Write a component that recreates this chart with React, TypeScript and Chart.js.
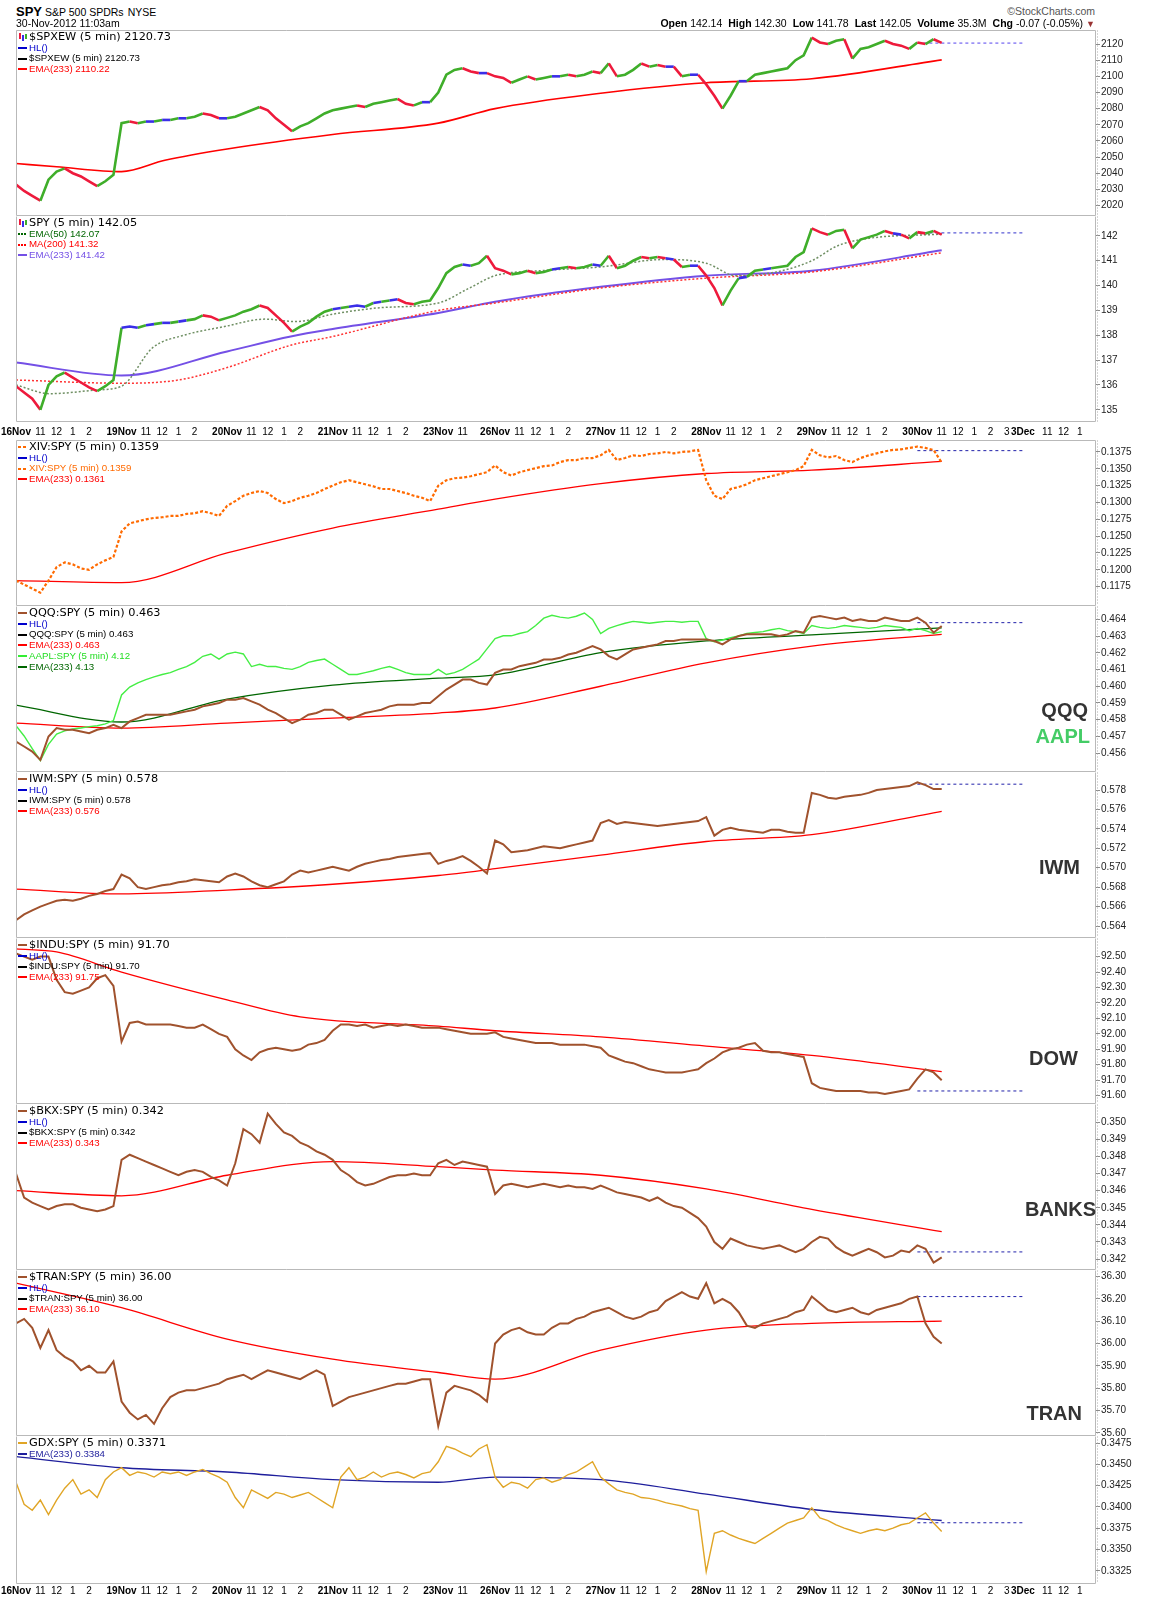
import React, { useEffect, useRef } from 'react';
import { Chart, registerables } from 'chart.js';

Chart.register(...registerables);

const SANS = '"Liberation Sans", Arial, Helvetica, sans-serif';
const VERD = '"DejaVu Sans", Verdana, sans-serif';
Chart.defaults.font.family = SANS;

// ---------- time axis (5-minute bars per session) ----------
const DAY_LABELS = ['16Nov', '19Nov', '20Nov', '21Nov', '23Nov', '26Nov', '27Nov', '28Nov', '29Nov', '30Nov', '3Dec'];
const DAY_BARS = [78, 78, 78, 78, 42, 78, 78, 78, 78, 78, 54];
const HOURS_SHOWN = [4, 4, 4, 4, 1, 4, 4, 4, 4, 5, 3];
const HOUR_LABELS = ['11', '12', '1', '2', '3'];
const HOUR_OFFSETS = [18, 30, 42, 54, 66];
const STEP = 6; // bars between samples below (30 minutes)

// ---------- series (one sample every 30 minutes) ----------
const SPXEW = [
  2033, 2029, 2026, 2023, 2036, 2041, 2043, 2040, 2038, 2035, 2032, 2035, 2039,
  2071, 2072, 2071, 2072, 2072, 2073, 2073, 2074, 2074, 2075, 2077, 2076, 2074,
  2074, 2075, 2077, 2079, 2081, 2079, 2074, 2070, 2066, 2069, 2071, 2074, 2077,
  2079, 2080, 2081, 2082, 2081, 2083, 2084, 2085, 2086, 2083, 2082, 2084, 2084,
  2090, 2101, 2104, 2105, 2103, 2102, 2102,
  2100, 2099, 2096, 2098, 2100, 2098, 2099, 2100, 2100, 2101, 2100, 2101, 2103,
  2102, 2108, 2100, 2101, 2104, 2108, 2106, 2107, 2106, 2106, 2100, 2101, 2101,
  2095, 2088, 2080, 2088, 2097, 2097, 2101, 2102, 2103, 2104, 2105, 2110, 2113,
  2124, 2121, 2120, 2122, 2123, 2111, 2117, 2118, 2120, 2122, 2120, 2119, 2117,
  2121, 2120, 2123, 2120.73,
];
const SPXEW_EMA233 = [[0, 2046], [30, 2044], [78, 2041], [110, 2048], [156, 2055], [234, 2064], [312, 2071], [354, 2080], [432, 2089.5], [510, 2096], [588, 2098.5], [684, 2110.22]];

const SPY = [
  135.95, 135.7, 135.45, 135.0, 136.0, 136.35, 136.5, 136.3, 136.1, 135.9, 135.75, 135.95, 136.2,
  138.3, 138.35, 138.3, 138.4, 138.45, 138.5, 138.5, 138.55, 138.6, 138.65, 138.8, 138.75, 138.6,
  138.7, 138.8, 138.95, 139.05, 139.2, 139.1, 138.8, 138.5, 138.15, 138.35, 138.5, 138.75, 138.95,
  139.05, 139.1, 139.15, 139.2, 139.15, 139.3, 139.35, 139.4, 139.45, 139.3, 139.25, 139.35, 139.4,
  139.9, 140.5, 140.75, 140.85, 140.8, 140.9, 141.2,
  140.7, 140.6, 140.45, 140.5, 140.6, 140.5, 140.55, 140.65, 140.7, 140.75, 140.7, 140.75, 140.85,
  140.8, 141.2, 140.7, 140.8, 141.0, 141.15, 141.1, 141.15, 141.1, 141.05, 140.75, 140.8, 140.8,
  140.4, 139.9, 139.2, 139.8, 140.3, 140.35, 140.6, 140.65, 140.7, 140.75, 140.8, 141.15, 141.35,
  142.3, 142.15, 142.05, 142.2, 142.25, 141.5, 141.85, 141.95, 142.05, 142.2, 142.1, 142.05, 141.9,
  142.15, 142.1, 142.2, 142.05,
];
const SPY_EMA50 = [[0, 136.0], [25, 135.65], [60, 135.8], [78, 135.95], [101, 137.5], [124, 138.0], [154, 138.35], [184, 138.65], [207, 138.55], [234, 138.85], [267, 139.1], [312, 139.3], [335, 139.9], [354, 140.4], [388, 140.6], [432, 140.75], [479, 141.05], [510, 140.9], [532, 140.4], [562, 140.55], [588, 141.0], [607, 141.6], [630, 141.9], [684, 142.07]];
const SPY_MA200 = [[0, 136.2], [78, 136.07], [120, 136.2], [156, 136.7], [203, 137.6], [234, 137.95], [312, 139.0], [354, 139.3], [432, 139.9], [510, 140.3], [588, 140.55], [684, 141.32]];
const SPY_EMA233 = [[0, 136.9], [78, 136.38], [156, 137.35], [203, 137.95], [234, 138.25], [312, 138.9], [354, 139.35], [432, 139.95], [510, 140.4], [588, 140.6], [684, 141.42]];

const XIV_SPY = [
  0.1184, 0.1178, 0.1172, 0.1166, 0.1184, 0.1204, 0.1211, 0.1208, 0.1202, 0.1200, 0.1208, 0.1214, 0.1219,
  0.1257, 0.1269, 0.1272, 0.1275, 0.1277, 0.1278, 0.1280, 0.1280, 0.1283, 0.1284, 0.1287, 0.1284, 0.1280,
  0.1295, 0.1302, 0.1310, 0.1314, 0.1317, 0.1314, 0.1305, 0.1299, 0.1302, 0.1307, 0.1310, 0.1314, 0.1320,
  0.1325, 0.1330, 0.1333, 0.1330, 0.1327, 0.1324, 0.1320, 0.1320, 0.1317, 0.1314, 0.1310, 0.1307, 0.1302,
  0.1325, 0.1333, 0.1336, 0.1337, 0.1339, 0.1342, 0.1345,
  0.1355, 0.1345, 0.1340, 0.1345, 0.1348, 0.1351, 0.1354, 0.1355, 0.1360, 0.1363, 0.1363, 0.1366, 0.1366,
  0.1370, 0.1378, 0.1363, 0.1366, 0.1370, 0.1369, 0.1372, 0.1373, 0.1375, 0.1373, 0.1375, 0.1376, 0.1378,
  0.1333, 0.1310, 0.1305, 0.1320, 0.1323, 0.1327, 0.1333, 0.1336, 0.1339, 0.1342, 0.1345, 0.1348, 0.1354,
  0.1378, 0.1370, 0.1367, 0.1369, 0.1363, 0.1360, 0.1366, 0.1370, 0.1373, 0.1376, 0.1378, 0.1379, 0.1381,
  0.1383, 0.1381, 0.1378, 0.1359,
];
const XIV_EMA233 = [[0, 0.1184], [78, 0.1181], [156, 0.1225], [234, 0.1262], [312, 0.1290], [354, 0.1305], [432, 0.1328], [510, 0.1343], [588, 0.1348], [684, 0.1361]];

const QQQ_SPY = [
  0.4567, 0.4564, 0.4561, 0.4556, 0.4570, 0.4575, 0.4574, 0.4574, 0.4573, 0.4572, 0.4574, 0.4575, 0.4577,
  0.4575, 0.4579, 0.4581, 0.4583, 0.4583, 0.4583, 0.4583, 0.4584, 0.4585, 0.4586, 0.4588, 0.4589, 0.4590,
  0.4592, 0.4592, 0.4593, 0.4591, 0.4589, 0.4586, 0.4584, 0.4581, 0.4578, 0.4580, 0.4583, 0.4584, 0.4586,
  0.4586, 0.4583, 0.4580, 0.4582, 0.4584, 0.4585, 0.4586, 0.4588, 0.4589, 0.4589, 0.4589, 0.4590, 0.4590,
  0.4594, 0.4598, 0.4601, 0.4604, 0.4604, 0.4602, 0.4601,
  0.4608, 0.4610, 0.4610, 0.4612, 0.4613, 0.4614, 0.4616, 0.4616, 0.4617, 0.4619, 0.4620, 0.4622, 0.4624,
  0.4622, 0.4618, 0.4616, 0.4619, 0.4622, 0.4623, 0.4624, 0.4625, 0.4627, 0.4627, 0.4628, 0.4628, 0.4628,
  0.4628, 0.4627, 0.4625, 0.4628, 0.4630, 0.4631, 0.4631, 0.4631, 0.4631, 0.4630, 0.4631, 0.4633, 0.4632,
  0.4641, 0.4642, 0.4641, 0.4640, 0.4641, 0.4639, 0.4640, 0.4639, 0.4639, 0.4641, 0.4640, 0.4639, 0.4639,
  0.4641, 0.4638, 0.4632, 0.4636,
];
const QQQ_EMA233 = [[0, 0.4578], [78, 0.4575], [156, 0.4578], [234, 0.4581], [312, 0.4584], [354, 0.4587], [432, 0.4600], [510, 0.4614], [588, 0.4624], [684, 0.4631]];

const AAPL_SPY = [
  3.918, 3.896, 3.869, 3.843, 3.878, 3.900, 3.907, 3.911, 3.913, 3.916, 3.918, 3.922, 3.929,
  3.984, 4.001, 4.010, 4.017, 4.023, 4.028, 4.032, 4.039, 4.045, 4.054, 4.067, 4.072, 4.061,
  4.072, 4.076, 4.072, 4.045, 4.050, 4.045, 4.045, 4.041, 4.039, 4.045, 4.054, 4.058, 4.061,
  4.050, 4.039, 4.028, 4.028, 4.032, 4.036, 4.041, 4.045, 4.039, 4.032, 4.028, 4.028, 4.028,
  4.039, 4.028, 4.032, 4.039, 4.050, 4.061, 4.083,
  4.105, 4.111, 4.111, 4.116, 4.120, 4.133, 4.149, 4.155, 4.151, 4.149, 4.153, 4.160, 4.146,
  4.116, 4.127, 4.133, 4.138, 4.142, 4.140, 4.138, 4.140, 4.142, 4.142, 4.140, 4.142, 4.142,
  4.105, 4.098, 4.102, 4.107, 4.111, 4.116, 4.118, 4.120, 4.124, 4.127, 4.122, 4.120, 4.116,
  4.133, 4.129, 4.127, 4.129, 4.133, 4.131, 4.129, 4.127, 4.129, 4.133, 4.131, 4.129, 4.122,
  4.127, 4.122, 4.116, 4.120,
];
const AAPL_EMA233 = [[0, 3.962], [78, 3.926], [156, 3.975], [234, 4.005], [312, 4.020], [354, 4.027], [432, 4.075], [510, 4.100], [588, 4.113], [684, 4.128]];

const IWM_SPY = [
  0.5646, 0.5652, 0.5656, 0.5660, 0.5663, 0.5666, 0.5667, 0.5666, 0.5668, 0.5671, 0.5673, 0.5676, 0.5678,
  0.5693, 0.5689, 0.5680, 0.5678, 0.5680, 0.5682, 0.5683, 0.5685, 0.5686, 0.5688, 0.5687, 0.5686, 0.5685,
  0.5691, 0.5694, 0.5691, 0.5686, 0.5682, 0.5680, 0.5683, 0.5686, 0.5693, 0.5697, 0.5695, 0.5697, 0.5699,
  0.5701, 0.5699, 0.5697, 0.5701, 0.5704, 0.5706, 0.5708, 0.5709, 0.5711, 0.5712, 0.5713, 0.5714, 0.5715,
  0.5704, 0.5707, 0.5709, 0.5712, 0.5707, 0.5701, 0.5694,
  0.5728, 0.5724, 0.5716, 0.5717, 0.5718, 0.5720, 0.5722, 0.5721, 0.5720, 0.5722, 0.5724, 0.5726, 0.5728,
  0.5746, 0.5749, 0.5745, 0.5747, 0.5746, 0.5745, 0.5744, 0.5743, 0.5744, 0.5745, 0.5746, 0.5747, 0.5748,
  0.5752, 0.5733, 0.5739, 0.5741, 0.5739, 0.5738, 0.5737, 0.5736, 0.5739, 0.5739, 0.5737, 0.5736, 0.5736,
  0.5777, 0.5775, 0.5772, 0.5771, 0.5773, 0.5774, 0.5775, 0.5777, 0.5780, 0.5781, 0.5782, 0.5783, 0.5784,
  0.5788, 0.5785, 0.5781, 0.5781,
];
const IWM_EMA233 = [[0, 0.5678], [78, 0.5673], [156, 0.5677], [234, 0.5683], [312, 0.5692], [354, 0.5699], [432, 0.5713], [510, 0.5727], [588, 0.5734], [684, 0.5758]];

const INDU_SPY = [
  92.52, 92.50, 92.48, 92.50, 92.50, 92.35, 92.27, 92.26, 92.28, 92.30, 92.36, 92.38, 92.31,
  91.95, 92.07, 92.08, 92.06, 92.06, 92.06, 92.06, 92.05, 92.04, 92.04, 92.06, 92.03, 92.00,
  91.98, 91.90, 91.86, 91.83, 91.88, 91.90, 91.91, 91.90, 91.89, 91.90, 91.93, 91.94, 91.96,
  92.02, 92.06, 92.06, 92.05, 92.06, 92.04, 92.05, 92.06, 92.05, 92.06, 92.05, 92.04, 92.04,
  92.04, 92.03, 92.02, 92.01, 92.00, 92.00, 92.00,
  92.01, 91.98, 91.97, 91.96, 91.95, 91.94, 91.94, 91.94, 91.93, 91.93, 91.93, 91.93, 91.92,
  91.91, 91.86, 91.84, 91.82, 91.81, 91.79, 91.77, 91.76, 91.75, 91.75, 91.75, 91.76, 91.77,
  91.81, 91.84, 91.88, 91.90, 91.91, 91.93, 91.94, 91.89, 91.88, 91.88, 91.87, 91.86, 91.85,
  91.68, 91.65, 91.64, 91.63, 91.63, 91.63, 91.63, 91.62, 91.62, 91.61, 91.62, 91.63, 91.64,
  91.71, 91.77, 91.75, 91.70,
];
const INDU_EMA233 = [[0, 92.55], [30, 92.53], [78, 92.40], [156, 92.22], [210, 92.11], [312, 92.05], [354, 92.02], [432, 91.98], [510, 91.92], [588, 91.86], [684, 91.755]];

const BKX_SPY = [
  0.3470, 0.3456, 0.3453, 0.3451, 0.3449, 0.3451, 0.3452, 0.3452, 0.3450, 0.3449, 0.3448, 0.3449, 0.3451,
  0.3478, 0.3481, 0.3479, 0.3477, 0.3475, 0.3473, 0.3471, 0.3469, 0.3471, 0.3472, 0.3471, 0.3468, 0.3466,
  0.3463, 0.3476, 0.3496, 0.3493, 0.3488, 0.3505, 0.3499, 0.3494, 0.3492, 0.3488, 0.3486, 0.3483, 0.3481,
  0.3478, 0.3472, 0.3469, 0.3465, 0.3463, 0.3464, 0.3466, 0.3468, 0.3469, 0.3469, 0.3470, 0.3469, 0.3469,
  0.3476, 0.3478, 0.3475, 0.3477, 0.3476, 0.3475, 0.3474,
  0.3458, 0.3463, 0.3464, 0.3463, 0.3462, 0.3463, 0.3464, 0.3463, 0.3462, 0.3463, 0.3462, 0.3462, 0.3461,
  0.3463, 0.3461, 0.3459, 0.3458, 0.3457, 0.3456, 0.3454, 0.3456, 0.3453, 0.3451, 0.3450, 0.3447, 0.3444,
  0.3439, 0.3430, 0.3426, 0.3432, 0.3430, 0.3428, 0.3427, 0.3426, 0.3427, 0.3428, 0.3426, 0.3424, 0.3426,
  0.3430, 0.3433, 0.3432, 0.3427, 0.3424, 0.3422, 0.3424, 0.3426, 0.3424, 0.3421, 0.3422, 0.3425, 0.3424,
  0.3428, 0.3426, 0.3418, 0.3421,
];
const BKX_EMA233 = [[0, 0.3460], [78, 0.3457], [156, 0.3469], [234, 0.3477], [312, 0.3474], [354, 0.3472], [432, 0.3469], [510, 0.3461], [588, 0.3449], [684, 0.3436]];

const TRAN_SPY = [
  36.09, 36.11, 36.07, 35.98, 36.06, 35.97, 35.94, 35.92, 35.88, 35.90, 35.87, 35.87, 35.92,
  35.74, 35.69, 35.66, 35.68, 35.64, 35.71, 35.76, 35.78, 35.79, 35.79, 35.80, 35.81, 35.82,
  35.84, 35.85, 35.86, 35.84, 35.86, 35.88, 35.87, 35.86, 35.85, 35.84, 35.86, 35.88, 35.86,
  35.72, 35.74, 35.76, 35.77, 35.78, 35.79, 35.80, 35.81, 35.82, 35.82, 35.83, 35.84, 35.84,
  35.63, 35.78, 35.81, 35.80, 35.79, 35.77, 35.74,
  36.00, 36.04, 36.06, 36.07, 36.05, 36.04, 36.04, 36.07, 36.09, 36.09, 36.11, 36.12, 36.14,
  36.15, 36.16, 36.14, 36.12, 36.11, 36.12, 36.14, 36.15, 36.19, 36.21, 36.23, 36.21, 36.20,
  36.27, 36.18, 36.20, 36.18, 36.14, 36.08, 36.07, 36.09, 36.10, 36.11, 36.12, 36.14, 36.15,
  36.21, 36.18, 36.15, 36.14, 36.15, 36.16, 36.14, 36.13, 36.15, 36.16, 36.17, 36.18, 36.20,
  36.21, 36.09, 36.03, 36.00,
];
const TRAN_EMA233 = [[0, 36.27], [78, 36.16], [156, 36.02], [234, 35.93], [312, 35.87], [354, 35.84], [432, 35.97], [510, 36.06], [588, 36.09], [684, 36.10]];

const GDX_SPY = [
  0.3429, 0.3403, 0.3396, 0.3408, 0.3391, 0.3408, 0.3422, 0.3432, 0.3415, 0.3420, 0.3411, 0.3432, 0.3441,
  0.3446, 0.3437, 0.3441, 0.3439, 0.3435, 0.3441, 0.3439, 0.3441, 0.3437, 0.3441, 0.3444, 0.3439, 0.3435,
  0.3429, 0.3411, 0.3399, 0.3420, 0.3415, 0.3410, 0.3417, 0.3415, 0.3411, 0.3414, 0.3417, 0.3411, 0.3405,
  0.3399, 0.3435, 0.3446, 0.3432, 0.3435, 0.3441, 0.3435, 0.3439, 0.3441, 0.3438, 0.3434, 0.3439, 0.3441,
  0.3453, 0.3471, 0.3468, 0.3463, 0.3459, 0.3468, 0.3473,
  0.3435, 0.3423, 0.3429, 0.3427, 0.3422, 0.3432, 0.3434, 0.3429, 0.3432, 0.3438, 0.3441, 0.3447, 0.3453,
  0.3435, 0.3427, 0.3420, 0.3417, 0.3415, 0.3411, 0.3410, 0.3408, 0.3405, 0.3403, 0.3401, 0.3398, 0.3396,
  0.3324, 0.3369, 0.3372, 0.3367, 0.3363, 0.3360, 0.3357, 0.3363, 0.3369, 0.3375, 0.3381, 0.3384, 0.3387,
  0.3399, 0.3387, 0.3384, 0.3379, 0.3375, 0.3372, 0.3369, 0.3372, 0.3374, 0.3372, 0.3375, 0.3379, 0.3381,
  0.3387, 0.3393, 0.3381, 0.3371,
];
const GDX_EMA233 = [[0, 0.3459], [78, 0.3446], [156, 0.3441], [234, 0.3432], [312, 0.3429], [354, 0.3435], [432, 0.3432], [510, 0.3415], [588, 0.3397], [684, 0.3384]];

// horizontal reference levels HL()
const HL_LEVELS = [2120.6, 142.12, 0.1377, 0.4638, 0.5786, 91.63, 0.34242, 36.21, 0.33814];

// right-axis tick labels
const TICKS_SPXEW = [2020, 2030, 2040, 2050, 2060, 2070, 2080, 2090, 2100, 2110, 2120];
const TICKS_SPY = [135, 136, 137, 138, 139, 140, 141, 142];
const TICKS_XIV = [0.1175, 0.12, 0.1225, 0.125, 0.1275, 0.13, 0.1325, 0.135, 0.1375];
const TICKS_QQQ = [0.456, 0.457, 0.458, 0.459, 0.46, 0.461, 0.462, 0.463, 0.464];
const TICKS_IWM = [0.564, 0.566, 0.568, 0.57, 0.572, 0.574, 0.576, 0.578];
const TICKS_INDU = [91.6, 91.7, 91.8, 91.9, 92.0, 92.1, 92.2, 92.3, 92.4, 92.5];
const TICKS_BKX = [0.342, 0.343, 0.344, 0.345, 0.346, 0.347, 0.348, 0.349, 0.35];
const TICKS_TRAN = [35.6, 35.7, 35.8, 35.9, 36.0, 36.1, 36.2, 36.3];
const TICKS_GDX = [0.3325, 0.335, 0.3375, 0.34, 0.3425, 0.345, 0.3475];

// ---------- derived axis structures ----------
const DAY_STARTS: number[] = [];
let acc = 0;
DAY_BARS.forEach((b) => { DAY_STARTS.push(acc); acc += b; });
const AXIS_END = acc;
const X_TICKS: { v: number; label: string; bold: boolean }[] = [];
DAY_LABELS.forEach((d, i) => {
  X_TICKS.push({ v: DAY_STARTS[i], label: d, bold: true });
  for (let j = 0; j < HOURS_SHOWN[i]; j++) X_TICKS.push({ v: DAY_STARTS[i] + HOUR_OFFSETS[j], label: HOUR_LABELS[j], bold: false });
});
const X_MAP = new Map(X_TICKS.map((t) => [t.v, t]));
const HL_FROM = DAY_STARTS[9];
const HL_TO = DAY_STARTS[10];

const pts = (vals: number[]) => vals.map((y, i) => ({ x: i * STEP, y }));
const pairs = (p: number[][]) => p.map(([x, y]) => ({ x, y }));

const BROWN = '#a0522d';
const RED = '#ff0000';

const line = (data: any[], color: string, width: number, extra: any = {}) => ({
  data, borderColor: color, borderWidth: width, pointRadius: 0, fill: false, tension: 0, ...extra,
});
const ema = (p: number[][], color: string, width = 1.3, extra: any = {}) =>
  line(pairs(p), color, width, { cubicInterpolationMode: 'monotone', ...extra });
const hl = (level: number, color = '#2222aa') =>
  line([{ x: HL_FROM, y: level }, { x: HL_TO, y: level }], color, 1, { borderDash: [3, 3] });
const priceBars = (vals: number[], thr: number) =>
  line(pts(vals), '#3a2ee8', 2.6, {
    segment: {
      borderColor: (c: any) => {
        const d = c.p1.parsed.y - c.p0.parsed.y;
        return d > thr ? '#3fae2a' : d < -thr ? '#ee1a3c' : '#3a2ee8';
      },
    },
  });

const PAD = 8;

const borderPlugin = {
  id: 'panelBorder',
  afterDraw(chart: any, _a: any, opts: any) {
    const { ctx, chartArea: a } = chart;
    const l = Math.round(a.left) + 0.5;
    const r = Math.round(a.right) - 0.5;
    const t = Math.round(a.top) + 0.5;
    const b = Math.round(a.bottom) - 0.5;
    ctx.save();
    ctx.strokeStyle = '#b9b9b9';
    ctx.lineWidth = 1;
    ctx.beginPath();
    if (opts && opts.top) { ctx.moveTo(l, t); ctx.lineTo(r, t); }
    ctx.moveTo(l, t); ctx.lineTo(l, b); ctx.lineTo(r, b); ctx.lineTo(r, t);
    ctx.stroke();
    ctx.strokeStyle = '#a8a8a8';
    ctx.setLineDash([1, 2]);
    ctx.beginPath();
    ctx.moveTo(r + 2, t); ctx.lineTo(r + 2, b);
    ctx.stroke();
    ctx.restore();
  },
};

type Spec = {
  top: number; height: number; axisH: number; labelPad: number;
  min: number; max: number; ticks: number[]; dec: number;
  datasets: any[]; y2?: { min: number; max: number }; topBorder: boolean;
};

function Panel({ spec }: { spec: Spec }) {
  const ref = useRef<HTMLCanvasElement>(null);
  useEffect(() => {
    const showX = spec.axisH > 0;
    const scales: any = {
      x: {
        type: 'linear', min: 0, max: AXIS_END, display: showX,
        grid: { display: false, drawTicks: false }, border: { display: false },
        afterBuildTicks: (ax: any) => { ax.ticks = X_TICKS.map((t) => ({ value: t.v })); },
        afterFit: (ax: any) => { ax.height = spec.axisH; ax.paddingLeft = 0; ax.paddingRight = 0; },
        ticks: {
          autoSkip: false, maxRotation: 0, minRotation: 0, padding: spec.labelPad, color: '#000',
          callback: (v: any) => (X_MAP.get(v) ? X_MAP.get(v)!.label : ''),
          font: (c: any) => ({ family: SANS, size: 10, weight: c.tick && X_MAP.get(c.tick.value) && X_MAP.get(c.tick.value)!.bold ? 'bold' : 'normal' }),
        },
      },
      y: {
        type: 'linear', position: 'right', min: spec.min, max: spec.max,
        afterBuildTicks: (ax: any) => { ax.ticks = spec.ticks.map((v) => ({ value: v })); },
        afterFit: (ax: any) => { ax.width = 54; ax.paddingTop = 0; ax.paddingBottom = 0; },
        grid: { drawOnChartArea: false, drawTicks: true, tickLength: 4, color: '#8a8a8a' },
        border: { display: false },
        ticks: { autoSkip: false, padding: 1, color: '#222', font: { family: SANS, size: 10 }, callback: (v: any) => Number(v).toFixed(spec.dec) },
      },
    };
    if (spec.y2) scales.y2 = { type: 'linear', display: false, min: spec.y2.min, max: spec.y2.max };
    const chart = new Chart(ref.current as HTMLCanvasElement, {
      type: 'line',
      data: { datasets: spec.datasets },
      options: {
        animation: false, responsive: false, maintainAspectRatio: false,
        layout: { padding: { left: 16, right: 0, top: PAD, bottom: PAD } },
        plugins: { legend: { display: false }, tooltip: { enabled: false }, panelBorder: { top: spec.topBorder } } as any,
        elements: { point: { radius: 0 } },
        scales,
      },
      plugins: [borderPlugin as any],
    });
    return () => chart.destroy();
  }, []);
  return (
    <canvas
      ref={ref}
      width={1150}
      height={spec.height + spec.axisH + PAD * 2}
      style={{ position: 'absolute', left: 0, top: spec.top - PAD, width: 1150, height: spec.height + spec.axisH + PAD * 2 }}
    />
  );
}

type Row = { icon: 'candle' | 'line' | 'dash' | 'dot'; ic: string; text: string; color: string; big?: boolean };

function Icon({ kind, color }: { kind: Row['icon']; color: string }) {
  const box: any = { width: 9, height: 8, position: 'relative', marginRight: 2, flex: 'none' };
  if (kind === 'candle') {
    return (
      <div style={box}>
        <div style={{ position: 'absolute', left: 1, top: 0, width: 2, height: 6, background: '#ee1a3c' }} />
        <div style={{ position: 'absolute', left: 4, top: 2, width: 2, height: 6, background: '#3a2ee8' }} />
        <div style={{ position: 'absolute', left: 7, top: 1, width: 2, height: 5, background: '#3fae2a' }} />
      </div>
    );
  }
  if (kind === 'line') return <div style={box}><div style={{ position: 'absolute', left: 0, top: 3, width: 9, height: 2, background: color }} /></div>;
  if (kind === 'dash') {
    return (
      <div style={box}>
        <div style={{ position: 'absolute', left: 0, top: 3, width: 3, height: 2, background: color }} />
        <div style={{ position: 'absolute', left: 5, top: 3, width: 3, height: 2, background: color }} />
      </div>
    );
  }
  return (
    <div style={box}>
      {[0, 3, 6].map((x) => <div key={x} style={{ position: 'absolute', left: x, top: 3, width: 2, height: 2, background: color }} />)}
    </div>
  );
}

function Legend({ top, rows }: { top: number; rows: Row[] }) {
  return (
    <div style={{ position: 'absolute', left: 18, top: top + 0.5, pointerEvents: 'none' }}>
      {rows.map((r, i) => (
        <div key={i} style={{ display: 'flex', alignItems: 'center', height: r.big ? 12 : 10.8, whiteSpace: 'nowrap' }}>
          <Icon kind={r.icon} color={r.ic} />
          <span style={{ font: r.big ? `11.3px ${VERD}` : `9.7px ${SANS}`, color: r.color, lineHeight: r.big ? '12px' : '10.8px' }}>{r.text}</span>
        </div>
      ))}
    </div>
  );
}

function BigLabel({ text, right, cy, color = '#333' }: { text: string; right: number; cy: number; color?: string }) {
  return (
    <div style={{ position: 'absolute', left: 0, width: right, top: cy - 11, textAlign: 'right', font: `bold 20px ${SANS}`, lineHeight: '22px', color }}>
      {text}
    </div>
  );
}

export default function App() {
  const specs: Spec[] = [
    {
      top: 30, height: 186, axisH: 0, labelPad: 0, min: 2013.5, max: 2128.7, ticks: TICKS_SPXEW, dec: 0, topBorder: true,
      datasets: [priceBars(SPXEW, 0.8), ema(SPXEW_EMA233, RED, 1.6), hl(HL_LEVELS[0], '#5544ee')],
    },
    {
      top: 216, height: 206, axisH: 18, labelPad: 4, min: 134.51, max: 142.8, ticks: TICKS_SPY, dec: 0, topBorder: false,
      datasets: [
        priceBars(SPY, 0.05),
        ema(SPY_EMA50, '#6f8f63', 1.5, { borderDash: [2, 2] }),
        ema(SPY_MA200, '#ff3333', 1.5, { borderDash: [2, 2] }),
        ema(SPY_EMA233, '#7450e6', 2),
        hl(HL_LEVELS[1], '#3333cc'),
      ],
    },
    {
      top: 440, height: 166, axisH: 0, labelPad: 0, min: 0.11462, max: 0.13928, ticks: TICKS_XIV, dec: 4, topBorder: true,
      datasets: [line(pts(XIV_SPY), '#ff6a00', 2.2, { borderDash: [3, 2] }), ema(XIV_EMA233, RED, 1.3), hl(HL_LEVELS[2])],
    },
    {
      top: 606, height: 166, axisH: 0, labelPad: 0, min: 0.454877, max: 0.464795, ticks: TICKS_QQQ, dec: 3, topBorder: false,
      y2: { min: 3.8186, max: 4.175 },
      datasets: [
        line(pts(QQQ_SPY), BROWN, 2),
        line(pts(AAPL_SPY), '#44ee44', 1.4, { yAxisID: 'y2' }),
        ema(QQQ_EMA233, RED, 1.3),
        ema(AAPL_EMA233, '#006600', 1.3, { yAxisID: 'y2' }),
        hl(HL_LEVELS[3]),
      ],
    },
    {
      top: 772, height: 166, axisH: 0, labelPad: 0, min: 0.562765, max: 0.579853, ticks: TICKS_IWM, dec: 3, topBorder: false,
      datasets: [line(pts(IWM_SPY), BROWN, 2), ema(IWM_EMA233, RED, 1.3), hl(HL_LEVELS[4])],
    },
    {
      top: 938, height: 166, axisH: 0, labelPad: 0, min: 91.5456, max: 92.6204, ticks: TICKS_INDU, dec: 2, topBorder: false,
      datasets: [line(pts(INDU_SPY), BROWN, 2), ema(INDU_EMA233, RED, 1.3), hl(HL_LEVELS[5])],
    },
    {
      top: 1104, height: 166, axisH: 0, labelPad: 0, min: 0.341363, max: 0.351064, ticks: TICKS_BKX, dec: 3, topBorder: false,
      datasets: [line(pts(BKX_SPY), BROWN, 2), ema(BKX_EMA233, RED, 1.3), hl(HL_LEVELS[6])],
    },
    {
      top: 1270, height: 166, axisH: 0, labelPad: 0, min: 35.5857, max: 36.329, ticks: TICKS_TRAN, dec: 2, topBorder: false,
      datasets: [line(pts(TRAN_SPY), BROWN, 2), ema(TRAN_EMA233, RED, 1.3), hl(HL_LEVELS[7])],
    },
    {
      top: 1436, height: 148, axisH: 14, labelPad: 1, min: 0.33095, max: 0.348322, ticks: TICKS_GDX, dec: 4, topBorder: false,
      datasets: [line(pts(GDX_SPY), '#e0a526', 1.4), ema(GDX_EMA233, '#1e1e9c', 1.4), hl(HL_LEVELS[8])],
    },
  ];

  const ratioRows = (name: string, last: string, emaVal: string): Row[] => [
    { icon: 'line', ic: BROWN, text: `${name} (5 min) ${last}`, color: '#000', big: true },
    { icon: 'line', ic: '#0000cc', text: 'HL()', color: '#0000cc' },
    { icon: 'line', ic: '#000', text: `${name} (5 min) ${last}`, color: '#000' },
    { icon: 'line', ic: RED, text: `EMA(233) ${emaVal}`, color: RED },
  ];

  const stat = (k: string, v: string) => (
    <span style={{ marginLeft: 6 }}><b>{k}</b> {v}</span>
  );

  return (
    <div style={{ position: 'absolute', left: 0, top: 0, width: 1150, height: 1600, background: '#fff', overflow: 'hidden', fontFamily: SANS }}>
      {specs.map((s, i) => <Panel key={i} spec={s} />)}

      {/* header */}
      <div style={{ position: 'absolute', left: 16, top: 2, whiteSpace: 'nowrap', color: '#000' }}>
        <span style={{ font: `bold 13px ${SANS}` }}>SPY</span>
        <span style={{ font: `10.5px ${SANS}`, marginLeft: 3 }}>S&amp;P 500 SPDRs</span>
        <span style={{ font: `10.5px ${SANS}`, marginLeft: 4 }}>NYSE</span>
      </div>
      <div style={{ position: 'absolute', left: 16, top: 17, font: `10.5px ${SANS}`, color: '#000', whiteSpace: 'nowrap' }}>30-Nov-2012 11:03am</div>
      <div style={{ position: 'absolute', left: 0, width: 1095, top: 5, textAlign: 'right', font: `10.5px ${SANS}`, color: '#555' }}>©StockCharts.com</div>
      <div style={{ position: 'absolute', left: 0, width: 1095, top: 17, textAlign: 'right', font: `10.5px ${SANS}`, color: '#000', whiteSpace: 'nowrap' }}>
        {stat('Open', '142.14')}{stat('High', '142.30')}{stat('Low', '141.78')}{stat('Last', '142.05')}{stat('Volume', '35.3M')}{stat('Chg', '-0.07 (-0.05%)')}
        <span style={{ color: '#993333', marginLeft: 3, fontSize: 9 }}>▼</span>
      </div>

      {/* legends */}
      <Legend top={30} rows={[
        { icon: 'candle', ic: '', text: '$SPXEW (5 min) 2120.73', color: '#000', big: true },
        { icon: 'line', ic: '#0000cc', text: 'HL()', color: '#0000cc' },
        { icon: 'line', ic: '#000', text: '$SPXEW (5 min) 2120.73', color: '#000' },
        { icon: 'line', ic: RED, text: 'EMA(233) 2110.22', color: RED },
      ]} />
      <Legend top={216} rows={[
        { icon: 'candle', ic: '', text: 'SPY (5 min) 142.05', color: '#000', big: true },
        { icon: 'dot', ic: '#006600', text: 'EMA(50) 142.07', color: '#006600' },
        { icon: 'dot', ic: RED, text: 'MA(200) 141.32', color: RED },
        { icon: 'line', ic: '#7450e6', text: 'EMA(233) 141.42', color: '#7450e6' },
      ]} />
      <Legend top={440} rows={[
        { icon: 'dash', ic: '#ff6a00', text: 'XIV:SPY (5 min) 0.1359', color: '#000', big: true },
        { icon: 'line', ic: '#0000cc', text: 'HL()', color: '#0000cc' },
        { icon: 'dash', ic: '#ff6a00', text: 'XIV:SPY (5 min) 0.1359', color: '#ff6a00' },
        { icon: 'line', ic: RED, text: 'EMA(233) 0.1361', color: RED },
      ]} />
      <Legend top={606} rows={[
        ...ratioRows('QQQ:SPY', '0.463', '0.463'),
        { icon: 'line', ic: '#33ee33', text: 'AAPL:SPY (5 min) 4.12', color: '#22dd22' },
        { icon: 'line', ic: '#006600', text: 'EMA(233) 4.13', color: '#006600' },
      ]} />
      <Legend top={772} rows={ratioRows('IWM:SPY', '0.578', '0.576')} />
      <Legend top={938} rows={ratioRows('$INDU:SPY', '91.70', '91.75')} />
      <Legend top={1104} rows={ratioRows('$BKX:SPY', '0.342', '0.343')} />
      <Legend top={1270} rows={ratioRows('$TRAN:SPY', '36.00', '36.10')} />
      <Legend top={1436} rows={[
        { icon: 'line', ic: '#e0a526', text: 'GDX:SPY (5 min) 0.3371', color: '#000', big: true },
        { icon: 'line', ic: '#1e1e9c', text: 'EMA(233) 0.3384', color: '#1e1e9c' },
      ]} />

      {/* panel names */}
      <BigLabel text="QQQ" right={1088} cy={710} />
      <BigLabel text="AAPL" right={1090} cy={736} color="#44cc66" />
      <BigLabel text="IWM" right={1080} cy={867} />
      <BigLabel text="DOW" right={1078} cy={1058} />
      <BigLabel text="BANKS" right={1096} cy={1209} />
      <BigLabel text="TRAN" right={1082} cy={1413} />
    </div>
  );
}
